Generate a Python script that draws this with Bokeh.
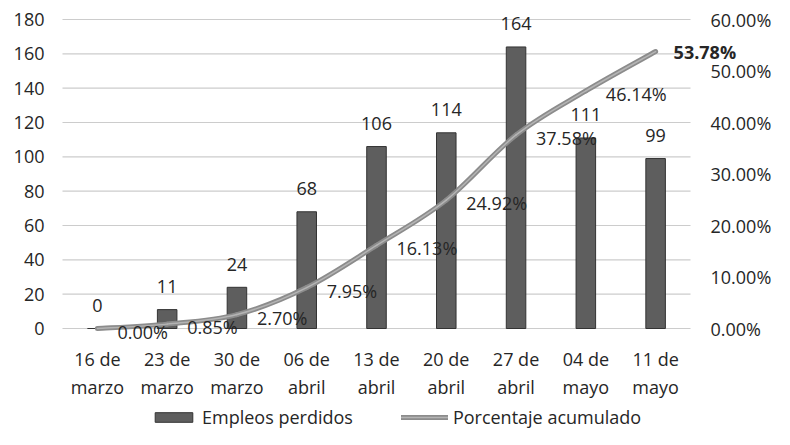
from bokeh.plotting import figure
from bokeh.models import (Range1d, LinearAxis, NumeralTickFormatter,
                          Legend, LegendItem, ColumnDataSource, FixedTicker)
from bokeh.core.properties import value
from bokeh.embed import file_html
from bokeh.resources import INLINE

categories = ["16 de\nmarzo", "23 de\nmarzo", "30 de\nmarzo", "06 de\nabril", "13 de\nabril",
              "20 de\nabril", "27 de\nabril", "04 de\nmayo", "11 de\nmayo"]
empleos = [0, 11, 24, 68, 106, 114, 164, 111, 99]
porcentaje = [0.00, 0.85, 2.70, 7.95, 16.13, 24.92, 37.58, 46.14, 53.78]
left_ticks = [0, 20, 40, 60, 80, 100, 120, 140, 160, 180]
right_ticks = [0.0, 0.1, 0.2, 0.3, 0.4, 0.5, 0.6]

FONT = "Open Sans"
FS = "18px"
TXT = "#262626"

W, H = 774, 429
# plot-area placement in pixels (layout only)
PX_L, PX_R, PX_T, PX_B = 62, 690, 19, 328
ncat = len(categories)
kx = (PX_R - PX_L) / ncat
xstart = -0.5 - PX_L / kx
xend = ncat - 0.5 + (W - PX_R) / kx
ymax = left_ticks[-1]
ky = (PX_B - PX_T) / ymax
ystart = -(H - PX_B) / ky
yend = ymax + PX_T / ky
pmax = right_ticks[-1]
kp = (PX_B - PX_T) / pmax
pstart = -(H - PX_B) / kp
pend = pmax + PX_T / kp

p = figure(x_range=Range1d(xstart, xend), y_range=Range1d(ystart, yend),
           width=W, height=H, output_backend="svg", toolbar_location=None,
           min_border=0, min_border_left=0, min_border_right=0,
           min_border_top=0, min_border_bottom=0)
p.extra_y_ranges = {"pct": Range1d(pstart, pend)}
p.outline_line_color = None
p.background_fill_color = "white"
p.xgrid.grid_line_color = None
p.ygrid.grid_line_color = None

xi = list(range(ncat))
first_x = xi[0] - 0.5
last_x = xi[-1] + 0.5


def style(ax, standoff):
    ax.axis_line_color = None
    ax.major_tick_line_color = None
    ax.minor_tick_line_color = None
    ax.major_tick_out = 0
    ax.major_tick_in = 0
    ax.minor_tick_out = 0
    ax.minor_tick_in = 0
    ax.major_label_text_font = FONT
    ax.major_label_text_font_size = FS
    ax.major_label_text_color = TXT
    ax.major_label_standoff = standoff


yax = p.yaxis[0]
yax.ticker = FixedTicker(ticks=left_ticks)
yax.fixed_location = first_x
style(yax, 18)

xax = p.xaxis[0]
xax.ticker = FixedTicker(ticks=xi)
xax.major_label_overrides = {i: c for i, c in zip(xi, categories)}
xax.fixed_location = 0
style(xax, 18)

rax = LinearAxis(y_range_name="pct", ticker=FixedTicker(ticks=right_ticks),
                 formatter=NumeralTickFormatter(format="0.00%"))
rax.fixed_location = last_x
style(rax, 20)
p.add_layout(rax, "right")

# horizontal gridlines across the plot area only
p.segment(x0=[first_x] * len(left_ticks), x1=[last_x] * len(left_ticks),
          y0=left_ticks, y1=left_ticks, line_color="#cccccc", line_width=1.2)

src = ColumnDataSource(dict(x=xi, y=empleos, lab=[str(v) for v in empleos]))
bars = p.vbar(x="x", top="y", width=0.28, source=src, fill_color="#5e5e5e",
              line_color="#333333", line_width=1)

# smoothed line (Excel-like) via cubic bezier through the data points
ys = [v / 100 for v in porcentaje]
n = ncat
x0, y0, x1, y1, cx0, cy0, cx1, cy1 = [], [], [], [], [], [], [], []
for i in range(n - 1):
    pa = (xi[max(i - 1, 0)], ys[max(i - 1, 0)])
    pb = (xi[i], ys[i])
    pc = (xi[i + 1], ys[i + 1])
    pd = (xi[min(i + 2, n - 1)], ys[min(i + 2, n - 1)])
    x0.append(pb[0]); y0.append(pb[1]); x1.append(pc[0]); y1.append(pc[1])
    cx0.append(pb[0] + (pc[0] - pa[0]) / 6); cy0.append(pb[1] + (pc[1] - pa[1]) / 6)
    cx1.append(pc[0] - (pd[0] - pb[0]) / 6); cy1.append(pc[1] - (pd[1] - pb[1]) / 6)
bsrc = ColumnDataSource(dict(x0=x0, y0=y0, x1=x1, y1=y1, cx0=cx0, cy0=cy0, cx1=cx1, cy1=cy1))
outer = p.bezier(x0="x0", y0="y0", x1="x1", y1="y1", cx0="cx0", cy0="cy0", cx1="cx1", cy1="cy1",
                 source=bsrc, y_range_name="pct", line_color="#8c8c8c", line_width=5,
                 line_cap="round")
inner = p.bezier(x0="x0", y0="y0", x1="x1", y1="y1", cx0="cx0", cy0="cy0", cx1="cx1", cy1="cy1",
                 source=bsrc, y_range_name="pct", line_color="#b4b4b4", line_width=1.5,
                 line_cap="round")

# bar value labels
p.text(x="x", y="y", text="lab", source=src, text_align="center", text_baseline="alphabetic",
       y_offset=-23, text_font=value(FONT), text_font_size=FS, text_color=TXT)

# cumulative percentage labels
lsrc = ColumnDataSource(dict(x=xi[:-1], y=ys[:-1], t=["%.2f%%" % v for v in porcentaje[:-1]]))
p.text(x="x", y="y", text="t", source=lsrc, y_range_name="pct", text_align="left",
       text_baseline="middle", x_offset=20, y_offset=3, text_font=value(FONT),
       text_font_size=FS, text_color=TXT)
last = ColumnDataSource(dict(x=xi[-1:], y=ys[-1:], t=["%.2f%%" % porcentaje[-1]]))
p.text(x="x", y="y", text="t", source=last, y_range_name="pct", text_align="left",
       text_baseline="middle", x_offset=18, y_offset=0, text_font=value(FONT),
       text_font_size=FS, text_font_style="bold", text_color=TXT)

legend = Legend(items=[LegendItem(label="Empleos perdidos", renderers=[bars]),
                       LegendItem(label="Porcentaje acumulado", renderers=[outer, inner])],
                orientation="horizontal", location=(150, 0), border_line_color=None,
                background_fill_alpha=0, glyph_width=47, glyph_height=12,
                label_text_font=FONT, label_text_font_size=FS, label_text_color=TXT,
                label_standoff=5, spacing=48, padding=0, margin=0)
p.add_layout(legend, "center")

open("out.html", "w").write(file_html(p, INLINE))
